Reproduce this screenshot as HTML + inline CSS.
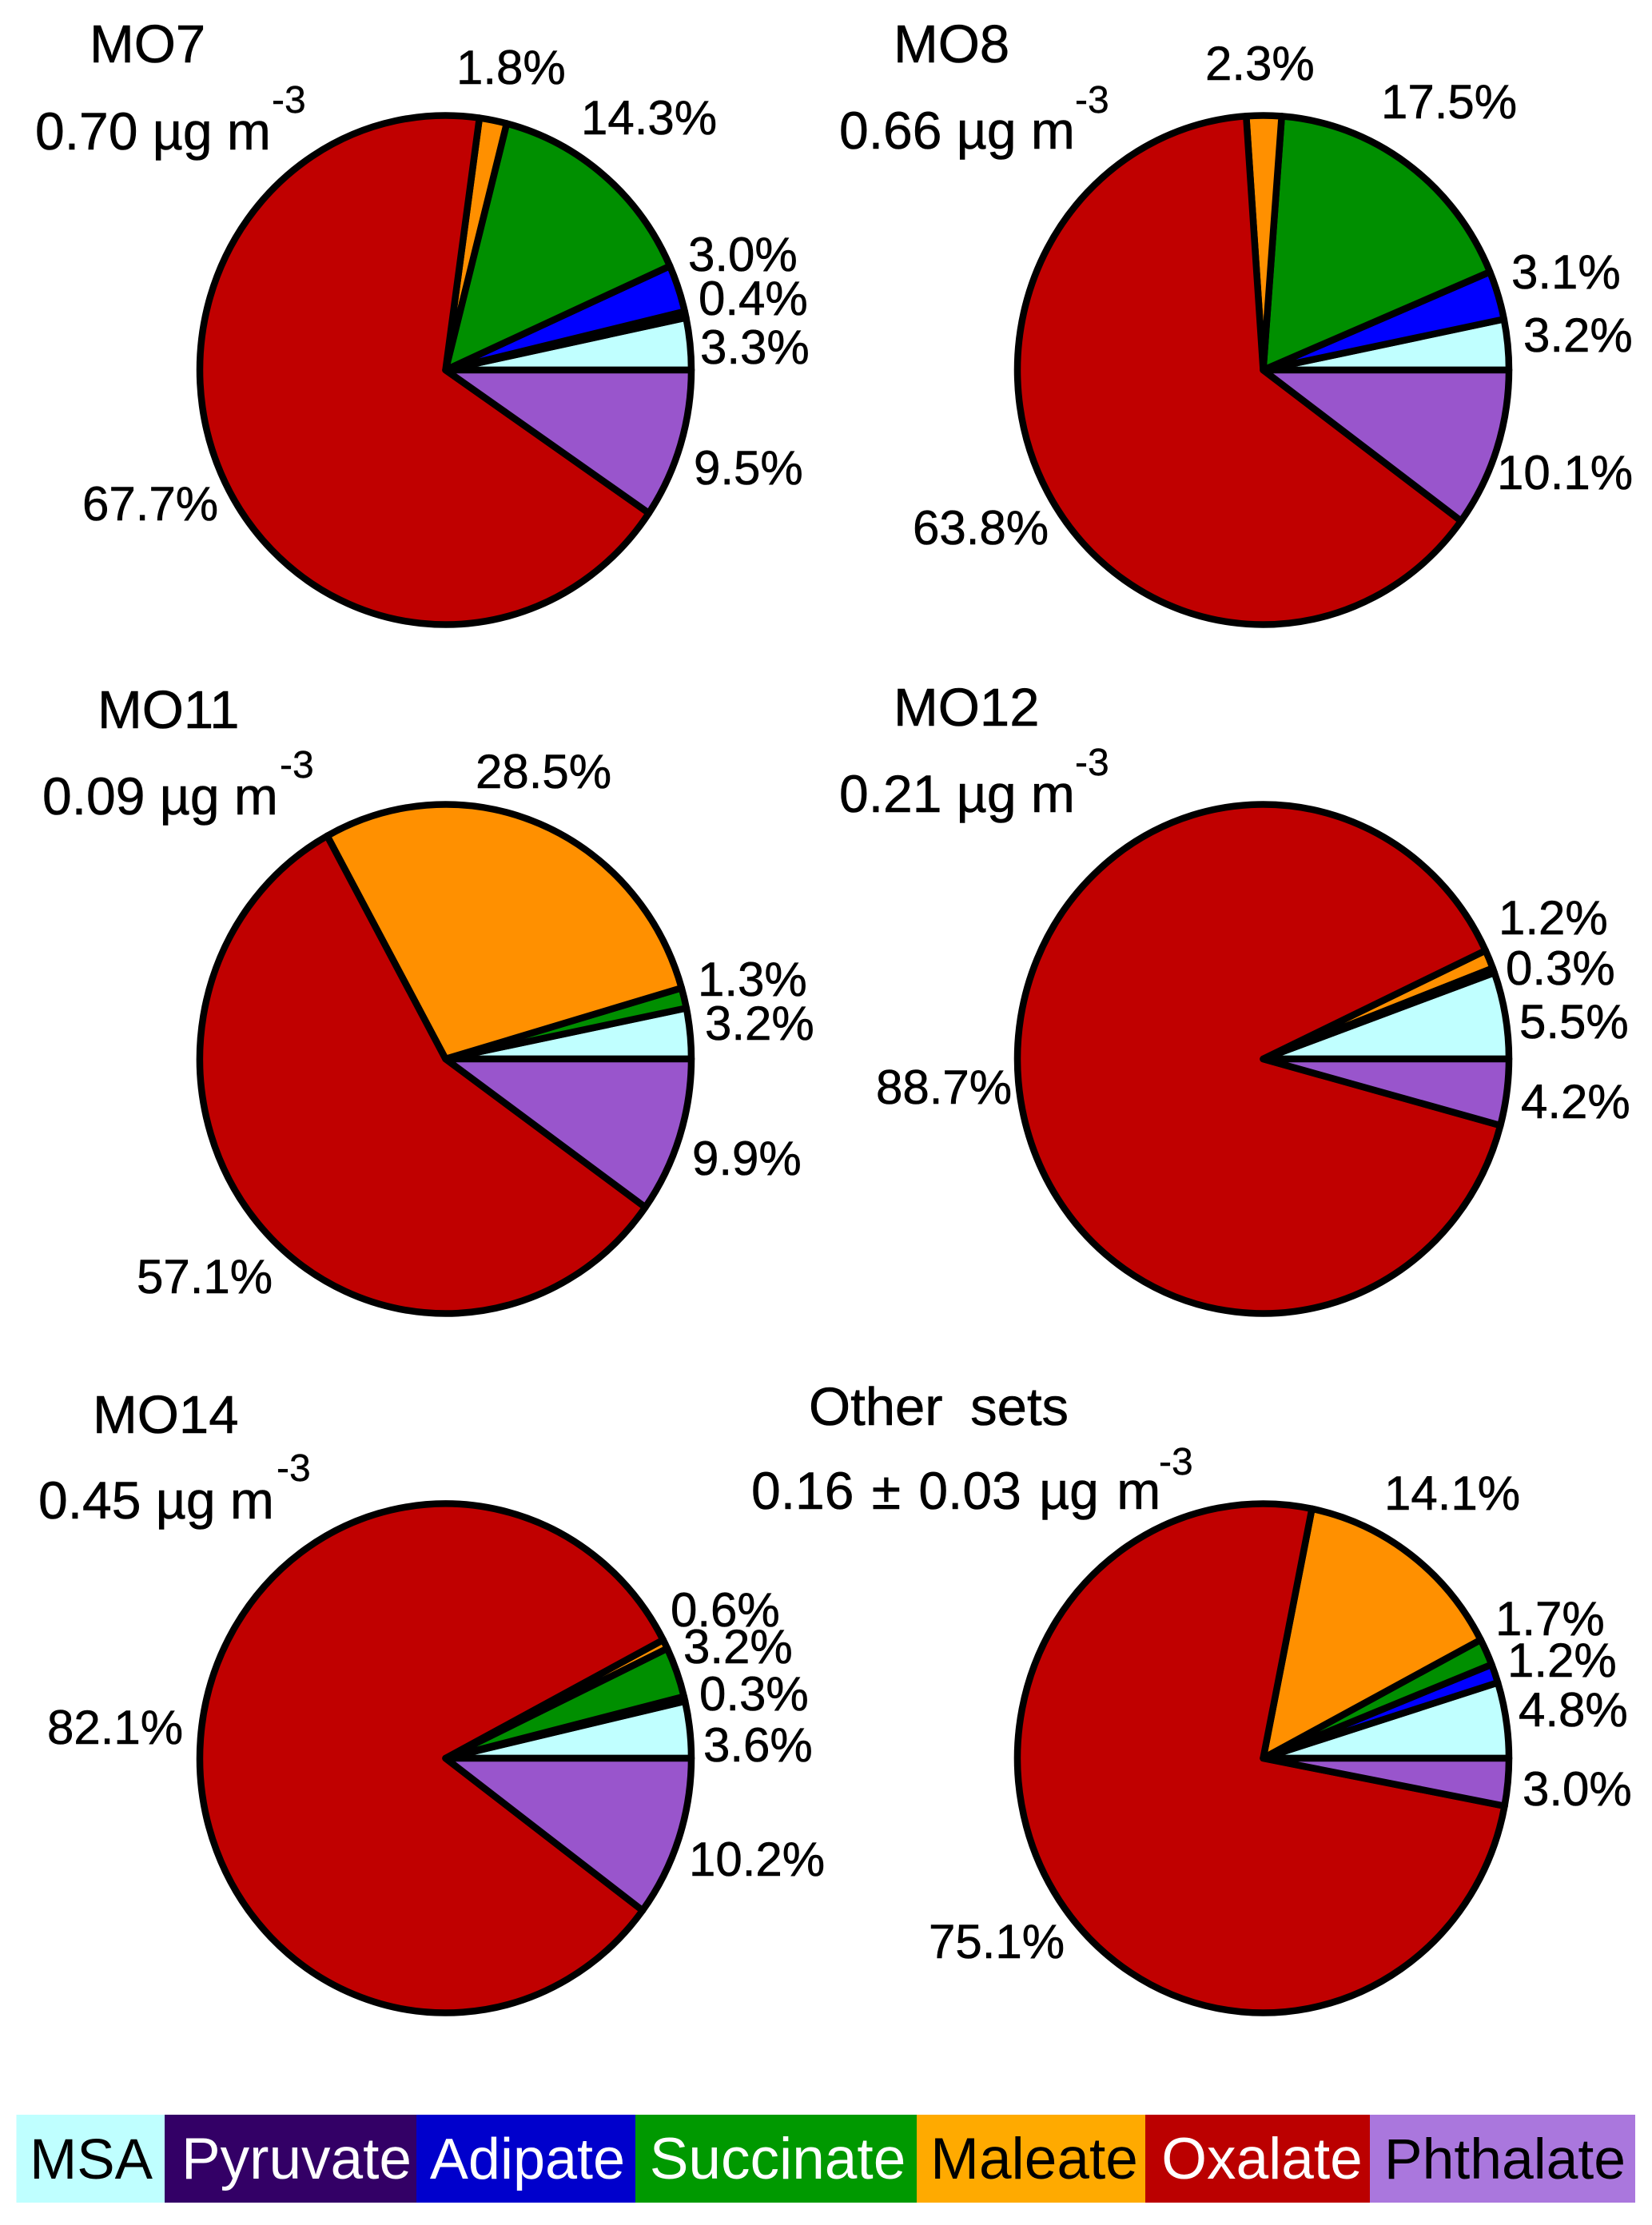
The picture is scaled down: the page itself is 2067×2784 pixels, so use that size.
<!DOCTYPE html>
<html lang="en">
<head>
<meta charset="utf-8">
<title>Dicarboxylic acid composition pie charts</title>
<style>
  html, body { margin: 0; padding: 0; background: #ffffff; }
  #chart { display: block; width: 2067px; height: 2784px; font-family: "Liberation Sans", sans-serif; }
  .pct { font-size: 60px; fill: #000; stroke: #000; stroke-width: 0.6px; }
  .title { font-size: 67px; fill: #000; stroke: #000; stroke-width: 0.6px; }
  .conc { font-size: 66px; fill: #000; stroke: #000; stroke-width: 0.6px; word-spacing: 0px; }
  .sup { font-size: 48px; fill: #000; stroke: #000; stroke-width: 0.4px; }
  .legend-text { font-size: 73px; text-anchor: middle; }
</style>
</head>
<body>
<svg id="chart" xmlns="http://www.w3.org/2000/svg" width="2067" height="2784" viewBox="0 0 2067 2784">
  <rect x="0" y="0" width="2067" height="2784" fill="#ffffff"/>
  <g id="pies"></g>

  <g id="titles">
    <text class="title" x="112" y="78">MO7</text>
    <text class="conc" x="44" y="187">0.70 µg m</text>
    <text class="sup" x="340" y="141">-3</text>

    <text class="title" x="1118" y="78">MO8</text>
    <text class="conc" x="1050" y="186">0.66 µg m</text>
    <text class="sup" x="1345" y="141">-3</text>

    <text class="title" x="122" y="911">MO11</text>
    <text class="conc" x="53" y="1019">0.09 µg m</text>
    <text class="sup" x="350" y="973">-3</text>

    <text class="title" x="1118" y="908">MO12</text>
    <text class="conc" x="1050" y="1016">0.21 µg m</text>
    <text class="sup" x="1345" y="970">-3</text>

    <text class="title" x="116" y="1793">MO14</text>
    <text class="conc" x="48" y="1900">0.45 µg m</text>
    <text class="sup" x="346" y="1853">-3</text>

    <text class="title" x="1012" y="1783" style="word-spacing:16px">Other sets</text>
    <text class="conc" x="940" y="1888" style="word-spacing:4px">0.16 ± 0.03 µg m</text>
    <text class="sup" x="1450" y="1845">-3</text>
  </g>

  <g id="legend">
    <g>
      <rect x="20.5" y="2646" width="185.5" height="110" fill="#bfffff"/>
      <text class="legend-text" x="114" y="2726" fill="#000000" style="font-size:71px">MSA</text>
    </g>
    <g>
      <rect x="206" y="2646" width="315" height="110" fill="#330066"/>
      <text class="legend-text" x="371" y="2726" fill="#ffffff">Pyruvate</text>
    </g>
    <g>
      <rect x="521" y="2646" width="274" height="110" fill="#0000cc"/>
      <text class="legend-text" x="660" y="2726" fill="#ffffff" style="font-size:72px">Adipate</text>
    </g>
    <g>
      <rect x="795" y="2646" width="352" height="110" fill="#009900"/>
      <text class="legend-text" x="973" y="2726" fill="#ffffff">Succinate</text>
    </g>
    <g>
      <rect x="1147" y="2646" width="286" height="110" fill="#ffaa00"/>
      <text class="legend-text" x="1294" y="2726" fill="#000000">Maleate</text>
    </g>
    <g>
      <rect x="1433" y="2646" width="281" height="110" fill="#bb0000"/>
      <text class="legend-text" x="1579" y="2726" fill="#ffffff">Oxalate</text>
    </g>
    <g>
      <rect x="1714" y="2646" width="332" height="110" fill="#aa77dd"/>
      <text class="legend-text" x="1883" y="2726" fill="#000000" style="font-size:71.5px">Phthalate</text>
    </g>
  </g>
</svg>

<script>
// Data: percent of each compound, in drawing order (counter-clockwise from 3 o'clock)
const categories = ['MSA', 'Pyruvate', 'Adipate', 'Succinate', 'Maleate', 'Oxalate', 'Phthalate'];
const panelNames = ['mo7', 'mo8', 'mo11', 'mo12', 'mo14', 'other-sets'];
const valuesMO7 = [3.3, 0.4, 3.0, 14.3, 1.8, 67.7, 9.5];
const valuesMO8 = [3.2, 0, 3.1, 17.5, 2.3, 63.8, 10.1];
const valuesMO11 = [3.2, 0, 0, 1.3, 28.5, 57.1, 9.9];
const valuesMO12 = [5.5, 0.3, 0, 0, 1.2, 88.7, 4.2];
const valuesMO14 = [3.6, 0.3, 0, 3.2, 0.6, 82.1, 10.2];
const valuesOther = [4.8, 0, 1.2, 1.7, 14.1, 75.1, 3.0];

// Styling and layout, separate from the data
const sliceColors = ['#c0ffff', '#330066', '#0000ff', '#008f00', '#ff9000', '#c00000', '#9955cc'];
const radiusX = 307.5;
const radiusY = 318.5;
const panelCenters = [[557.5, 463], [1580.5, 463], [557.5, 1325], [1580.5, 1325], [557.5, 2200], [1580.5, 2200]];
// Label anchor (left, baseline) per category for each panel; null where no label is printed
const labelAnchors = [
  [[876, 455], [874, 394], [861, 339], [727, 168], [571, 105], [103, 651], [868, 606]],
  [[1906, 440], null, [1891, 361], [1728, 148], [1508, 100], [1142, 681], [1873, 612]],
  [[882, 1301], null, null, [873, 1246], [595, 986], [171, 1618], [866, 1470]],
  [[1901, 1299], [1884, 1232], null, null, [1875, 1169], [1096, 1381], [1903, 1399]],
  [[880, 2204], [875, 2140], null, [855, 2081], [839, 2035], [59, 2182], [862, 2347]],
  [[1900, 2160], null, [1886, 2098], [1871, 2046], [1732, 1889], [1162, 2450], [1905, 2259]]
];

const panelValues = [valuesMO7, valuesMO8, valuesMO11, valuesMO12, valuesMO14, valuesOther];
const svgNS = 'http://www.w3.org/2000/svg';
const piesGroup = document.getElementById('pies');

// Axis function: cumulative percent to a point on the panel's ellipse
function pointAt(center, cumulative, total) {
  const theta = (cumulative / total) * 2 * Math.PI;
  return [center[0] + radiusX * Math.cos(theta), center[1] - radiusY * Math.sin(theta)];
}

function slicePath(center, startValue, endValue, total) {
  const a = pointAt(center, startValue, total);
  const b = pointAt(center, endValue, total);
  const large = (endValue - startValue) / total > 0.5 ? 1 : 0;
  return 'M' + center[0] + ' ' + center[1] +
    'L' + a[0].toFixed(2) + ' ' + a[1].toFixed(2) +
    'A' + radiusX + ' ' + radiusY + ' 0 ' + large + ' 0 ' + b[0].toFixed(2) + ' ' + b[1].toFixed(2) + 'Z';
}

panelValues.forEach(function (values, p) {
  const center = panelCenters[p];
  const panelName = panelNames[p];
  const total = values.reduce(function (s, v) { return s + v; }, 0);
  const panel = document.createElementNS(svgNS, 'g');
  
  
  piesGroup.appendChild(panel);

  let cumulative = 0;
  values.forEach(function (value, i) {
    if (value <= 0) { return; }
    const category = categories[i].toLowerCase();
    const slice = document.createElementNS(svgNS, 'path');
    slice.setAttribute('d', slicePath(center, cumulative, cumulative + value, total));
    slice.setAttribute('fill', sliceColors[i]);
    slice.setAttribute('stroke', '#000000');
    slice.setAttribute('stroke-width', '8.5');
    slice.setAttribute('stroke-linejoin', 'round');
    
    
    panel.appendChild(slice);
    cumulative += value;

    const anchor = labelAnchors[p][i];
    if (anchor) {
      const label = document.createElementNS(svgNS, 'text');
      label.setAttribute('class', 'pct');
      label.setAttribute('x', anchor[0]);
      label.setAttribute('y', anchor[1]);
      label.textContent = value.toFixed(1) + '%';
      
      
      panel.appendChild(label);
    }
  });
});
</script>
</body>
</html>
